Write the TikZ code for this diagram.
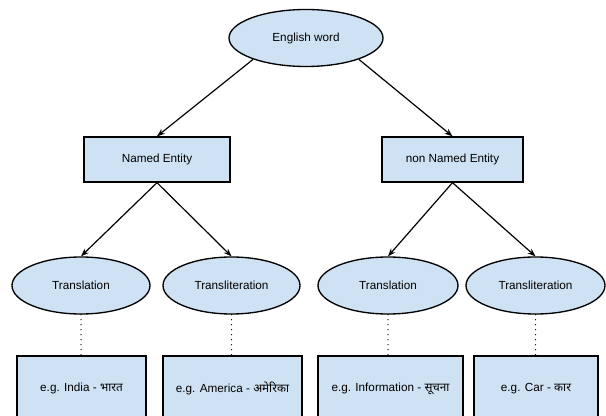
\documentclass[tikz,border=0pt]{standalone}
\usepackage{fontspec}
\setmainfont{Liberation Sans}
\newfontfamily\devfont[Script=Devanagari]{Noto Sans}
\usetikzlibrary{shapes.geometric,arrows.meta}
\definecolor{boxblue}{HTML}{CFE2F3}

\begin{document}
\begin{tikzpicture}[x=0.75pt,y=-0.75pt,
	every node/.style={font=\fontsize{8.8}{10.5}\selectfont},
	oval/.style={ellipse, draw=black, fill=boxblue, line width=1pt, minimum height=42.75pt, inner sep=0pt},
	entitybox/.style={rectangle, draw=black, fill=boxblue, line width=1pt, inner sep=0pt},
	arrowlink/.style={-{Stealth[length=6pt,width=4.5pt]}, line width=0.9pt},
	dotlink/.style={line width=1pt, line cap=round, dash pattern=on 0pt off 3.75pt}]

	\clip (0,0) rectangle (606,416);

	\coordinate (E) at (306,38);

	\coordinate (N0) at (157,159.5);
	\coordinate (N1) at (452.5,159.5);

	\coordinate (T0) at (81,285.5);
	\coordinate (T1) at (231.5,285.5);
	\coordinate (T2) at (388,285.5);
	\coordinate (T3) at (535.5,285.5);

	\coordinate (X0) at (81.5,388.5);
	\coordinate (X1) at (232.5,388.5);
	\coordinate (X2) at (390.5,388.5);
	\coordinate (X3) at (536,388.5);

	\node[oval, minimum width=115.5pt] (english) at (E) {English word};

	\node[entitybox, minimum width=109.5pt, minimum height=33.75pt] (named) at (N0) {Named Entity};
	\node[entitybox, minimum width=105.75pt, minimum height=33.75pt] (nonnamed) at (N1) {non Named Entity};

	\node[oval, minimum width=103.5pt] (transl0) at (T0) {Translation};
	\node[oval, minimum width=102.75pt] (translit0) at (T1) {Transliteration};
	\node[oval, minimum width=105pt] (transl1) at (T2) {Translation};
	\node[oval, minimum width=104.25pt] (translit1) at (T3) {Transliteration};

	\node[entitybox, minimum width=96.75pt, minimum height=48.75pt] (ex0) at (X0) {e.g. India - {\devfont भारत}};
	\node[entitybox, minimum width=104.25pt, minimum height=48.75pt] (ex1) at (X1) {e.g. America - {\devfont अमेरिका}};
	\node[entitybox, minimum width=108.75pt, minimum height=48.75pt] (ex2) at (X2) {e.g. Information - {\devfont सूचना}};
	\node[entitybox, minimum width=93pt, minimum height=48.75pt] (ex3) at (X3) {e.g. Car - {\devfont कार}};

	\draw[arrowlink] (english.202) -- (named.north);
	\draw[arrowlink] (english.338) -- (nonnamed.north);

	\draw[arrowlink] (named.south) -- (transl0.north);
	\draw[arrowlink] (named.south) -- (translit0.north);
	\draw[arrowlink] (nonnamed.south) -- (transl1.north);
	\draw[arrowlink] (nonnamed.south) -- (translit1.north);

	\draw[dotlink] (transl0.south) -- (transl0.south |- ex0.north);
	\draw[dotlink] (translit0.south) -- (translit0.south |- ex1.north);
	\draw[dotlink] (transl1.south) -- (transl1.south |- ex2.north);
	\draw[dotlink] (translit1.south) -- (translit1.south |- ex3.north);

\end{tikzpicture}
\end{document}
